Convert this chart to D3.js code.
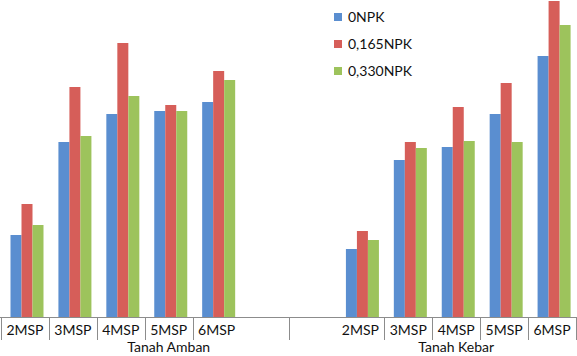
<!DOCTYPE html>
<html><head><meta charset="utf-8">
<script src="https://cdn.jsdelivr.net/npm/d3@7"></script>
<style>body{margin:0;background:#fff;}svg{display:block;}</style>
</head><body>
<svg id="c" width="577" height="356"></svg>
<script>
// Category slots (multi-level axis): empty labels are blank slots
const slotLabels = ["2MSP","3MSP","4MSP","5MSP","6MSP","","","2MSP","3MSP","4MSP","5MSP","6MSP"];
const groups = ["Tanah Amban","Tanah Kebar"];
const groupSpans = [[0,7],[7,12]];
const tickBoundaries = [0,1,2,3,4,6,8,9,10,11,12];
const seriesNames = ["0NPK","0,165NPK","0,330NPK"];
const colors = ["#5A8ED0","#D65E59","#9DC35C"];
// values per slot (null = empty slot)
const s0NPK    = [8.2,17.5,20.3,20.6,21.5,null,null,6.8,15.7,17.0,20.3,26.1];
const s165NPK  = [11.3,23.0,27.4,21.2,24.6,null,null,8.6,17.5,21.0,23.4,31.6];
const s330NPK  = [9.2,18.1,22.1,20.6,23.7,null,null,7.7,16.9,17.6,17.5,29.2];
const series = [s0NPK, s165NPK, s330NPK];

const svg = d3.select("#c");
const baseY = 317;
const x0 = d3.scaleBand().domain(d3.range(slotLabels.length)).range([1,576]).padding(0);
const sw = x0.bandwidth();
const x1 = d3.scaleBand().domain(d3.range(series.length)).range([9.5, 42.5]).padding(0);
const y = d3.scaleLinear().domain([0,31.7]).range([baseY,0]);
const font = "Lato, 'Open Sans', sans-serif";

const bars = [];
series.forEach((vals,si)=>vals.forEach((v,ci)=>{ if(v!=null) bars.push({si,ci,v}); }));
svg.append("g").selectAll("rect").data(bars).join("rect")
  .attr("x", d=>x0(d.ci)+x1(d.si))
  .attr("width", x1.bandwidth())
  .attr("y", d=>y(d.v))
  .attr("height", d=>baseY-y(d.v))
  .attr("fill", d=>colors[d.si]);

// axis line
svg.append("line").attr("x1",0).attr("x2",577).attr("y1",baseY+0.5).attr("y2",baseY+0.5)
  .attr("stroke","#8c8c8c").attr("stroke-width",1);
const bpos = i => i===slotLabels.length ? 576 : x0(i);
svg.append("g").selectAll("line").data(tickBoundaries).join("line")
  .attr("x1", d=>Math.round(bpos(d))+0.5).attr("x2", d=>Math.round(bpos(d))+0.5)
  .attr("y1", baseY).attr("y2", 340)
  .attr("stroke","#8c8c8c").attr("stroke-width",1);

// category labels
svg.append("g").selectAll("text").data(slotLabels.map((l,i)=>({l,i})).filter(d=>d.l)).join("text")
  .attr("x", d=>x0(d.i)+sw/2).attr("y", 335)
  .attr("text-anchor","middle").attr("font-family",font).attr("font-size","14px").attr("fill","#111")
  .text(d=>d.l);
// group labels
svg.append("g").selectAll("text").data(groups).join("text")
  .attr("x", (d,i)=>(bpos(groupSpans[i][0])+bpos(groupSpans[i][1]))/2).attr("y", 352)
  .attr("text-anchor","middle").attr("font-family",font).attr("font-size","14px").attr("fill","#111")
  .text(d=>d);

// legend
const lg = svg.append("g");
seriesNames.forEach((n,i)=>{
  const yy = 13 + i*27;
  lg.append("rect").attr("x",334).attr("y",yy).attr("width",8).attr("height",8).attr("fill",colors[i]);
  lg.append("text").attr("x",348).attr("y",yy+9).attr("font-family",font).attr("font-size","14px").attr("fill","#111").text(n);
});
</script>
</body></html>
